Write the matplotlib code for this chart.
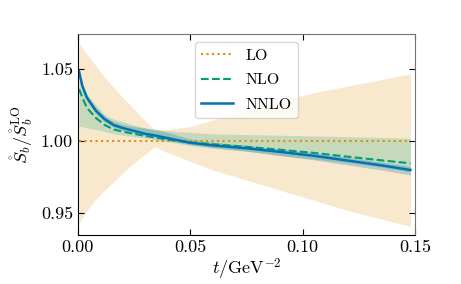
import numpy as np
import matplotlib
matplotlib.use('Agg')
from matplotlib import pyplot as plt

plt.rcParams['font.family'] = 'serif'
plt.rcParams['font.serif'] = ['cmr10']
plt.rcParams['mathtext.fontset'] = 'cm'
plt.rcParams['axes.formatter.use_mathtext'] = True

# t values (GeV^-2)
t = [0.0005, 0.002, 0.004, 0.008, 0.012, 0.016, 0.02, 0.025, 0.03, 0.034,
     0.04, 0.05, 0.06, 0.075, 0.09, 0.105, 0.12, 0.135, 0.148]

# LO band (central is 1)
lo = [1.0] * len(t)
lo_up = [1.068, 1.064, 1.060, 1.052, 1.044, 1.037, 1.030, 1.022, 1.014, 1.008,
         1.008, 1.010, 1.0145, 1.021, 1.0275, 1.0335, 1.038, 1.0425, 1.0465]
lo_dn = [0.943, 0.947, 0.952, 0.960, 0.966, 0.972, 0.978, 0.985, 0.991, 0.996,
         0.992, 0.986, 0.980, 0.973, 0.966, 0.959, 0.952, 0.946, 0.941]

# NLO
nlo = [1.036, 1.030, 1.023, 1.016, 1.011, 1.008, 1.0065, 1.005, 1.0035, 1.0025,
       1.001, 0.999, 0.9978, 0.996, 0.994, 0.9918, 0.9892, 0.9867, 0.9846]
nlo_up = [1.043, 1.038, 1.032, 1.025, 1.018, 1.015, 1.0135, 1.011, 1.009, 1.008,
          1.007, 1.006, 1.005, 1.0045, 1.004, 1.0035, 1.003, 1.0025, 1.002]
nlo_dn = [1.010, 1.010, 1.009, 1.008, 1.0065, 1.005, 1.004, 1.003, 1.002, 1.001,
          0.9995, 0.997, 0.995, 0.993, 0.990, 0.9875, 0.985, 0.982, 0.9785]

# NNLO
nnlo = [1.048, 1.038, 1.030, 1.021, 1.015, 1.011, 1.009, 1.007, 1.005, 1.004,
        1.002, 0.9988, 0.997, 0.995, 0.9925, 0.9898, 0.9865, 0.9832, 0.980]
nnlo_up = [1.050, 1.040, 1.032, 1.023, 1.017, 1.0135, 1.0115, 1.010, 1.009, 1.008,
           1.006, 1.0015, 0.9992, 0.997, 0.9945, 0.992, 0.9888, 0.9856, 0.9825]
nnlo_dn = [1.046, 1.036, 1.028, 1.019, 1.013, 1.0095, 1.0075, 1.0055, 1.0035, 1.0025,
           1.0005, 0.9975, 0.9955, 0.993, 0.990, 0.987, 0.9835, 0.980, 0.9765]

c_lo, c_nlo, c_nnlo = '#DE8F05', '#029E73', '#0173B2'

fig = plt.figure(figsize=(4.61, 2.84), dpi=100)
ax = fig.add_axes([0.169, 0.1725, 0.731, 0.7075])

ax.fill_between(t, lo_dn, lo_up, color=c_lo, alpha=0.2, lw=0)
ax.fill_between(t, nlo_dn, nlo_up, color=c_nlo, alpha=0.2, lw=0)
ax.fill_between(t, nnlo_dn, nnlo_up, color=c_nnlo, alpha=0.25, lw=0)
ax.plot(t, lo, ':', color=c_lo, lw=1.5, label='LO')
ax.plot(t, nlo, '--', color=c_nlo, lw=1.5, label='NLO')
ax.plot(t, nnlo, '-', color=c_nnlo, lw=1.8, label='NNLO')

ax.set_xlim(0, 0.15)
ax.set_ylim(0.935, 1.074)
ax.set_xticks([0.0, 0.05, 0.10, 0.15])
ax.set_xticklabels(['0.00', '0.05', '0.10', '0.15'])
ax.set_yticks([0.95, 1.00, 1.05])
ax.set_yticklabels(['0.95', '1.00', '1.05'])
ax.tick_params(direction='in', top=True, right=True, length=4, labelsize=13)
for s in ['top', 'right']:
    ax.spines[s].set_color('0.45')

ax.set_xlabel(r'$t/\mathrm{GeV}^{-2}$', fontsize=13, labelpad=1)
ax.set_ylabel(r'$\mathring{S}_b/\mathring{S}_b^{\rm LO}$', fontsize=13, labelpad=4)

ax.legend(loc='upper center', fontsize=11.5, handlelength=2.0, labelspacing=0.65)

fig.savefig('out.png', dpi=100)
